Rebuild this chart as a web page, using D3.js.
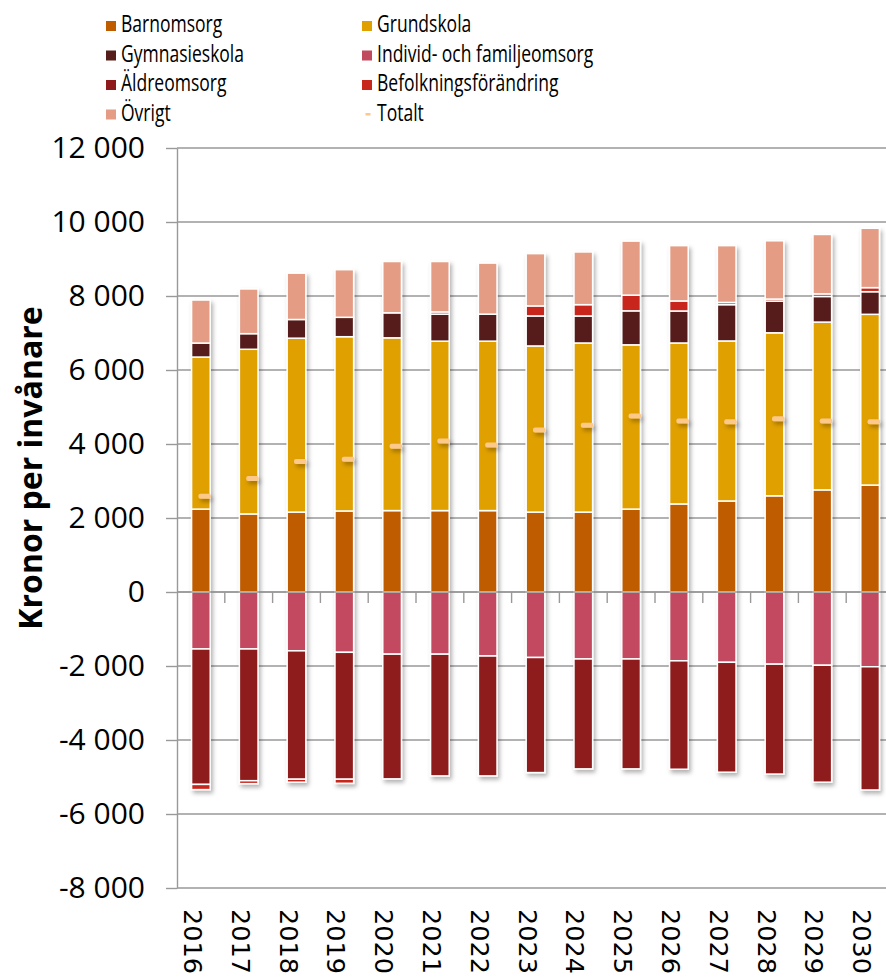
<!DOCTYPE html>
<html>
<head>
<meta charset="utf-8">
<script src="https://cdn.jsdelivr.net/npm/d3@7/dist/d3.min.js"></script>
<style>
  html, body { margin: 0; padding: 0; background: #fff; }
  svg { display: block; }
</style>
</head>
<body>
<div id="chart"></div>
<script>
// ---- Data ----
const years = ["2016","2017","2018","2019","2020","2021","2022","2023","2024","2025","2026","2027","2028","2029","2030"];
const barnomsorg      = [2240, 2110, 2160, 2190, 2200, 2200, 2200, 2160, 2160, 2240, 2380, 2460, 2600, 2760, 2890];
const grundskola      = [4110, 4450, 4700, 4710, 4670, 4580, 4580, 4490, 4570, 4440, 4350, 4325, 4405, 4535, 4615];
const gymnasieskola   = [378, 422, 505, 524, 675, 730, 730, 811, 730, 919, 865, 981, 857, 692, 611];
const individOmsorg   = [-1540, -1540, -1590, -1630, -1680, -1680, -1730, -1770, -1810, -1810, -1860, -1900, -1950, -1980, -2020];
const aldreomsorg     = [-3660, -3560, -3470, -3430, -3370, -3290, -3240, -3110, -2970, -2970, -2930, -2970, -2970, -3160, -3330];
const befolkning      = [-140, -80, -80, -110, 0, 60, 0, 271, 306, 424, 271, 60, 55, 70, 110];
const ovrigt          = [1163, 1208, 1252, 1287, 1387, 1362, 1379, 1413, 1424, 1460, 1495, 1535, 1575, 1606, 1604];
const totalt          = [2590, 3070, 3530, 3590, 3940, 4080, 3970, 4380, 4510, 4760, 4620, 4600, 4680, 4620, 4600];
const yTicks = [-8000, -6000, -4000, -2000, 0, 2000, 4000, 6000, 8000, 10000, 12000];

const seriesNames  = ["Barnomsorg","Grundskola","Gymnasieskola","Individ- och familjeomsorg","Äldreomsorg","Befolkningsförändring","Övrigt"];
const seriesValues = [barnomsorg, grundskola, gymnasieskola, individOmsorg, aldreomsorg, befolkning, ovrigt];
const seriesColors = ["#C05C00","#E0A000","#561E1A","#C24A5E","#8E1A1C","#C8281C","#E49C84"];
const totalColor = "#FDC98A";

// ---- Layout ----
const W = 886, H = 978;
const plotLeft = 177, plotRight = 894, plotTop = 148, plotBottom = 888;

const svg = d3.select("#chart").append("svg").attr("width", W).attr("height", H)
  .style("font-family", "'Open Sans', 'Noto Sans', sans-serif");

const defs = svg.append("defs");
const f = defs.append("filter").attr("id","shadow").attr("x","-30%").attr("y","-30%").attr("width","160%").attr("height","160%");
f.append("feDropShadow").attr("dx",2).attr("dy",3).attr("stdDeviation",2).attr("flood-color","#000").attr("flood-opacity",0.3);

const x = d3.scaleBand().domain(years).range([plotLeft, plotRight]).padding(0);
const y = d3.scaleLinear().domain([-8000, 12000]).range([plotBottom, plotTop]);

// grid lines
svg.append("g").selectAll("line").data(yTicks).join("line")
  .attr("x1", plotLeft).attr("x2", plotRight)
  .attr("y1", d => y(d)).attr("y2", d => y(d))
  .attr("stroke", "#999").attr("stroke-width", 1.4);

// y axis
const yAxis = d3.axisLeft(y).tickValues(yTicks).tickSizeInner(11).tickSizeOuter(0)
  .tickFormat(d => d3.format(",")(d).replace(/,/g, " ").replace("−","-"));
const gy = svg.append("g").attr("transform", `translate(${plotLeft},0)`).call(yAxis);
gy.select(".domain").attr("stroke", "#999").attr("stroke-width", 1.4);
gy.selectAll(".tick line").attr("stroke", "#999").attr("stroke-width", 1.4);
gy.selectAll(".tick text").attr("font-size", 30).attr("fill", "#000")
  .attr("font-family", "'Open Sans', sans-serif").attr("x", -32).attr("dy", "0.30em");

// x ticks at category boundaries along zero line
const xTickPos = years.slice(1).map(d => x(d));
svg.append("g").selectAll("line").data(xTickPos).join("line")
  .attr("x1", d => d).attr("x2", d => d)
  .attr("y1", y(0)).attr("y2", y(0) + 11)
  .attr("stroke", "#999").attr("stroke-width", 1.4);

// stacked bars
const rows = years.map((yr, i) => {
  const o = { year: yr };
  seriesNames.forEach((n, k) => o[n] = seriesValues[k][i]);
  return o;
});
const stack = d3.stack().keys(seriesNames).offset(d3.stackOffsetDiverging);
const stacked = stack(rows);
const barW = x.bandwidth() * 0.39;

const barsG = svg.append("g").attr("filter", "url(#shadow)");
stacked.forEach((s, k) => {
  barsG.append("g").selectAll("rect").data(s.filter(d => d[1] !== d[0])).join("rect")
    .attr("x", d => x(d.data.year) + x.bandwidth() / 2 - barW / 2)
    .attr("width", barW)
    .attr("y", d => y(Math.max(d[0], d[1])))
    .attr("height", d => Math.abs(y(d[0]) - y(d[1])))
    .attr("fill", seriesColors[k])
    .attr("stroke", "#fff").attr("stroke-width", 1.5);
});

// zero line drawn over bars
svg.append("line").attr("x1", plotLeft).attr("x2", plotRight)
  .attr("y1", y(0)).attr("y2", y(0)).attr("stroke", "#999").attr("stroke-width", 1.4);

// Totalt markers
svg.append("g").attr("filter", "url(#shadow)").selectAll("rect").data(totalt).join("rect")
  .attr("x", (d, i) => x(years[i]) + x.bandwidth() / 2 - 2.5)
  .attr("y", d => y(d) - 2.5)
  .attr("width", 12.5).attr("height", 5).attr("rx", 2)
  .attr("fill", totalColor);

// x labels
svg.append("g").selectAll("text").data(years).join("text")
  .attr("transform", d => `translate(${x(d) + x.bandwidth()/2 - 17},909) rotate(90)`)
  .attr("font-family", "'DejaVu Sans', sans-serif").attr("font-size", 25.5)
  .attr("fill", "#000").text(d => d);

// y axis title
svg.append("text")
  .attr("transform", `translate(42,468) rotate(-90)`)
  .attr("text-anchor", "middle").attr("font-weight", "bold").attr("font-size", 32)
  .attr("fill", "#000").text("Kronor per invånare");

// legend
const legendItems = [
  { name: "Barnomsorg", col: 0, row: 0, k: 0 },
  { name: "Grundskola", col: 1, row: 0, k: 1 },
  { name: "Gymnasieskola", col: 0, row: 1, k: 2 },
  { name: "Individ- och familjeomsorg", col: 1, row: 1, k: 3 },
  { name: "Äldreomsorg", col: 0, row: 2, k: 4 },
  { name: "Befolkningsförändring", col: 1, row: 2, k: 5 },
  { name: "Övrigt", col: 0, row: 3, k: 6 },
  { name: "Totalt", col: 1, row: 3, k: -1 }
];
const colX = [106, 362], rowY0 = 32, rowStep = 29.5;
const lg = svg.append("g");
legendItems.forEach(it => {
  const lx = colX[it.col], ly = rowY0 + it.row * rowStep;
  if (it.k >= 0) {
    lg.append("rect").attr("x", lx).attr("y", ly - 11).attr("width", 10).attr("height", 10)
      .attr("fill", seriesColors[it.k]);
  } else {
    lg.append("rect").attr("x", lx + 3.5).attr("y", ly - 7.5).attr("width", 5).attr("height", 2.5)
      .attr("fill", totalColor);
  }
  lg.append("text")
    .attr("transform", `translate(${lx + 15},${ly}) scale(0.73,1)`)
    .attr("font-size", 24).attr("fill", "#000").text(it.name);
});
</script>
</body>
</html>
